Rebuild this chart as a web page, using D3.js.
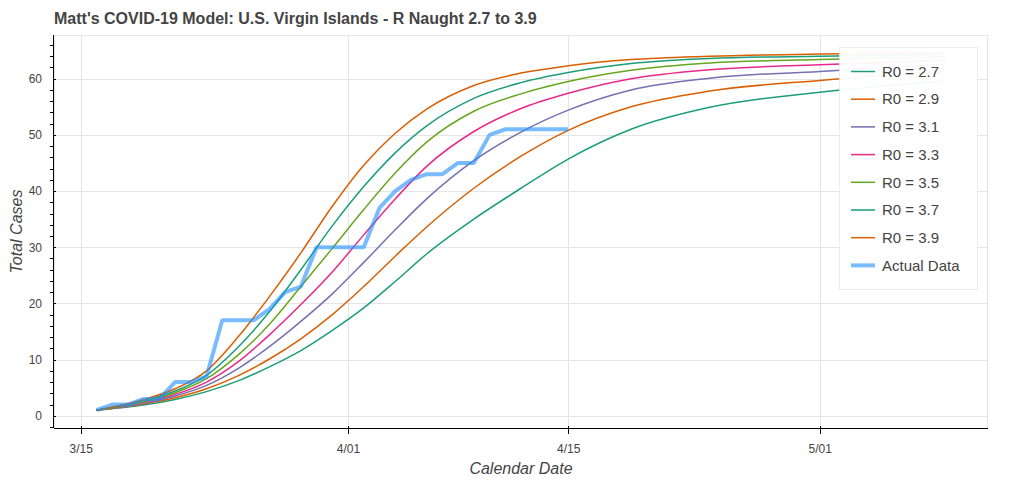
<!DOCTYPE html>
<html><head><meta charset="utf-8">
<script src="https://cdn.jsdelivr.net/npm/d3@7"></script>
<style>
body{margin:0;background:#fff;}
svg{display:block;font-family:"Liberation Sans",Arial,Helvetica,sans-serif;}
</style>
</head><body>
<svg id="chart" width="1024" height="482"></svg>
<script>
const titleText = "Matt's COVID-19 Model: U.S. Virgin Islands - R Naught 2.7 to 3.9";
const xLabel = "Calendar Date";
const yLabel = "Total Cases";

// model sample dates
const modelDates = ["2020-03-16","2020-03-19","2020-03-21","2020-03-23","2020-03-25","2020-03-27",
  "2020-03-29","2020-03-31","2020-04-02","2020-04-04","2020-04-06","2020-04-09","2020-04-12",
  "2020-04-15","2020-04-19","2020-04-24","2020-05-01","2020-05-09"];
const r27 = [1.0,1.9,2.9,4.3,6.2,8.7,11.6,15.2,19.2,23.9,28.8,35.0,40.5,45.7,51.0,54.9,57.6,59.6];
const r29 = [1.0,2.1,3.2,4.8,7.1,10.1,13.7,18.0,23.0,28.4,33.6,40.5,46.2,50.8,55.0,57.8,59.7,61.3];
const r31 = [1.0,2.2,3.5,5.4,8.4,12.3,16.8,21.7,27.3,33.1,38.6,45.4,50.5,54.4,58.0,60.1,61.3,62.6];
const r33 = [1.0,2.4,3.8,6.0,9.6,14.4,19.8,25.6,32.2,38.6,44.4,50.6,54.7,57.4,60.0,61.6,62.5,63.3];
const r35 = [1.0,2.5,4.1,6.6,10.8,16.3,23.0,29.8,36.7,43.2,48.7,54.2,57.3,59.5,61.5,62.8,63.4,63.9];
const r37 = [1.0,2.7,4.4,7.2,12.2,18.5,26.0,33.8,40.8,46.8,51.6,56.5,59.3,61.1,62.7,63.6,64.0,64.3];
const r39 = [1.0,2.9,4.8,8.0,14.0,21.2,29.0,37.3,44.6,50.3,54.6,58.8,61.0,62.3,63.4,64.0,64.4,64.6];
const seriesNames = ["R0 = 2.7","R0 = 2.9","R0 = 3.1","R0 = 3.3","R0 = 3.5","R0 = 3.7","R0 = 3.9"];
const seriesColors = ["#1b9e77","#d95f02","#7570b3","#e7298a","#66a61e","#1b9e77","#d95f02"];

const actualDates = ["2020-03-16","2020-03-17","2020-03-18","2020-03-19","2020-03-20","2020-03-21",
  "2020-03-22","2020-03-23","2020-03-24","2020-03-25","2020-03-26","2020-03-27","2020-03-28",
  "2020-03-29","2020-03-30","2020-03-31","2020-04-01","2020-04-02","2020-04-03","2020-04-04",
  "2020-04-05","2020-04-06","2020-04-07","2020-04-08","2020-04-09","2020-04-10","2020-04-11",
  "2020-04-12","2020-04-13","2020-04-14","2020-04-15"];
const actualCases = [1,2,2,3,3,6,6,7,17,17,17,19,22,23,30,30,30,30,37,40,42,43,43,45,45,50,51,51,51,51,51];
const actualName = "Actual Data";

const xTickDates = ["2020-03-15","2020-04-01","2020-04-15","2020-05-01"];
const xTickLabels = ["3/15","4/01","4/15","5/01"];
const yTicks = [0,10,20,30,40,50,60];
const yMinorTicks = d3.range(-2, 68, 2);

const parse = d3.utcParse("%Y-%m-%d");
const modelSeries = [r27,r29,r31,r33,r35,r37,r39].map((vals,i)=>({
  name: seriesNames[i], color: seriesColors[i],
  pts: vals.map((v,j)=>({d: parse(modelDates[j]), v}))
}));
const actualPts = actualCases.map((v,i)=>({d: parse(actualDates[i]), v}));

const svg = d3.select("#chart");
const plot = {left: 54, right: 988, top: 35, bottom: 428};

// ranges with 5% padding like the source plot
const allD = modelSeries.flatMap(s=>s.pts.map(p=>p.d)).concat(actualPts.map(p=>p.d));
const allV = modelSeries.flatMap(s=>s.pts.map(p=>p.v)).concat(actualCases);
const [d0,d1] = d3.extent(allD);
const dpad = (d1-d0)*0.05;
const [v0,v1] = d3.extent(allV);
const vpad = (v1-v0)*0.05;

const x = d3.scaleUtc().domain([new Date(+d0-dpad), new Date(+d1+dpad)]).range([plot.left, plot.right]);
const y = d3.scaleLinear().domain([v0-vpad, v1+vpad]).range([plot.bottom, plot.top]);

// grid
const grid = svg.append("g");
grid.selectAll(".gx").data(xTickDates).join("line")
  .attr("x1", d=>Math.round(x(parse(d)))+0.5).attr("x2", d=>Math.round(x(parse(d)))+0.5)
  .attr("y1", plot.top).attr("y2", plot.bottom).attr("stroke", "#e5e5e5");
grid.selectAll(".gy").data(yTicks).join("line")
  .attr("x1", plot.left).attr("x2", plot.right)
  .attr("y1", d=>Math.round(y(d))+0.5).attr("y2", d=>Math.round(y(d))+0.5).attr("stroke", "#e5e5e5");
// outline
svg.append("rect").attr("x", plot.left+0.5).attr("y", plot.top+0.5)
  .attr("width", plot.right-plot.left-1).attr("height", plot.bottom-plot.top)
  .attr("fill","none").attr("stroke","#e5e5e5");

// lines
const line = d3.line().x(p=>x(p.d)).y(p=>y(p.v)).curve(d3.curveMonotoneX);
const lg = svg.append("g");
modelSeries.forEach(s=>{
  lg.append("path").attr("d", line(s.pts)).attr("fill","none")
    .attr("stroke", s.color).attr("stroke-width", 1.5);
});
const aline = d3.line().x(p=>x(p.d)).y(p=>y(p.v));
lg.append("path").attr("d", aline(actualPts)).attr("fill","none")
  .attr("stroke","dodgerblue").attr("stroke-opacity",0.6).attr("stroke-width",4)
  .attr("stroke-linejoin","bevel");

// axes
const xAxis = d3.axisBottom(x).tickValues(xTickDates.map(parse))
  .tickFormat((d,i)=>xTickLabels[i]).tickSizeOuter(0).tickSizeInner(6).tickPadding(8);
const gx = svg.append("g").attr("transform", `translate(0,${plot.bottom})`).call(xAxis);
gx.select(".domain").attr("stroke","#000").attr("d", `M${plot.left},0.5H${plot.right}`);
gx.selectAll(".tick line").attr("stroke","#000").attr("y1",-2);
gx.selectAll(".tick text").attr("fill","#444").attr("font-size",12).attr("dy","0.9em");

const yAxis = d3.axisLeft(y).tickValues(yTicks).tickSizeOuter(0).tickSizeInner(7).tickPadding(5);
const gy = svg.append("g").attr("transform", `translate(${plot.left},0)`).call(yAxis);
gy.select(".domain").attr("stroke","#000").attr("d", `M-0.5,${plot.top}V${plot.bottom}`);
gy.selectAll(".tick line").attr("stroke","#000").attr("x2",2);
gy.selectAll(".tick text").attr("fill","#444").attr("font-size",12);
gy.selectAll(".minor").data(yMinorTicks.filter(v=>v%10!==0 && y(v)>=plot.top)).join("line")
  .attr("x1",-4).attr("x2",0).attr("y1",d=>Math.round(y(d))+0.5).attr("y2",d=>Math.round(y(d))+0.5)
  .attr("stroke","#000");
svg.selectAll(".domain, .tick line").attr("shape-rendering","crispEdges");

// labels
svg.append("text").attr("x", 54).attr("y", 24).attr("font-size", 16).attr("font-weight","bold")
  .attr("fill","#444").text(titleText);
svg.append("text").attr("x", (plot.left+plot.right)/2).attr("y", 474).attr("text-anchor","middle")
  .attr("font-size",16).attr("font-style","italic").attr("fill","#444").text(xLabel);
svg.append("text").attr("transform", `translate(22,${(plot.top+plot.bottom)/2}) rotate(-90)`)
  .attr("text-anchor","middle").attr("font-size",16).attr("font-style","italic").attr("fill","#444").text(yLabel);

// legend
const leg = {x: 839, y: 47, w: 138, h: 242, row: 27.7};
const lgG = svg.append("g");
lgG.append("rect").attr("x", leg.x+0.5).attr("y", leg.y+0.5).attr("width", leg.w).attr("height", leg.h)
  .attr("fill","#fff").attr("fill-opacity",0.95).attr("stroke","#e5e5e5").attr("stroke-opacity",0.7);
const items = modelSeries.map(s=>({name:s.name, color:s.color, w:1.5, op:1}))
  .concat([{name: actualName, color:"dodgerblue", w:4, op:0.6}]);
items.forEach((it,i)=>{
  const cy = leg.y + 24.5 + i*leg.row;
  lgG.append("line").attr("x1", leg.x+12).attr("x2", leg.x+36).attr("y1", cy).attr("y2", cy)
    .attr("stroke", it.color).attr("stroke-width", it.w).attr("stroke-opacity", it.op);
  lgG.append("text").attr("x", leg.x+43).attr("y", cy).attr("dy","0.35em")
    .attr("font-size",15).attr("fill","#444").text(it.name);
});
</script>
</body></html>
